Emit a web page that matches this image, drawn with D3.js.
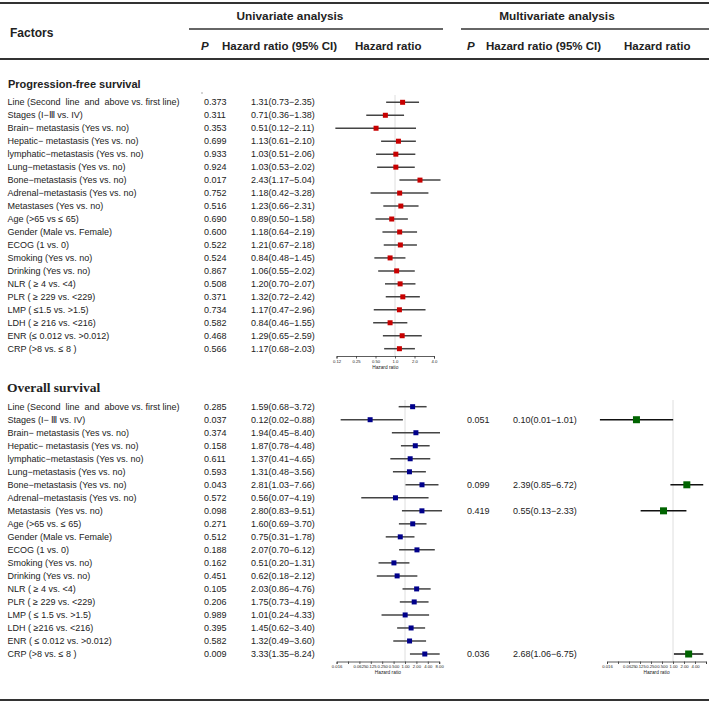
<!DOCTYPE html>
<html><head><meta charset="utf-8">
<script src="https://cdn.jsdelivr.net/npm/d3@7"></script>
<style>
body{margin:0;background:#fff}
svg text{font-family:"Liberation Sans",Arial,Helvetica,sans-serif;fill:#222;white-space:pre}
</style>
</head><body>
<svg id="chart" width="709" height="705"></svg>
<script>
// ---------- DATA ----------
const pfsFactors = [
  "Line (Second  line  and  above vs. first line)",
  "Stages (I\u2212\u2162 vs. IV)",
  "Brain\u2212 metastasis (Yes vs. no)",
  "Hepatic\u2212 metastasis (Yes vs. no)",
  "lymphatic\u2212metastasis (Yes vs. no)",
  "Lung\u2212metastasis (Yes vs. no)",
  "Bone\u2212metastasis (Yes vs. no)",
  "Adrenal\u2212metastasis (Yes vs. no)",
  "Metastases (Yes vs. no)",
  "Age (>65 vs \u2264 65)",
  "Gender (Male vs. Female)",
  "ECOG (1 vs. 0)",
  "Smoking (Yes vs. no)",
  "Drinking (Yes vs. no)",
  "NLR ( \u2265 4 vs. <4)",
  "PLR ( \u2265 229 vs. <229)",
  "LMP ( \u22641.5 vs. >1.5)",
  "LDH ( \u2265 216 vs. <216)",
  "ENR (\u2264 0.012 vs. >0.012)",
  "CRP (>8 vs. \u2264 8 )"
];
const pfsP  = ["0.373","0.311","0.353","0.699","0.933","0.924","0.017","0.752","0.516","0.690","0.600","0.522","0.524","0.867","0.508","0.371","0.734","0.582","0.468","0.566"];
const pfsHR = [1.31,0.71,0.51,1.13,1.03,1.03,2.43,1.18,1.23,0.89,1.18,1.21,0.84,1.06,1.20,1.32,1.17,0.84,1.29,1.17];
const pfsLo = [0.73,0.36,0.12,0.61,0.51,0.53,1.17,0.42,0.66,0.50,0.64,0.67,0.48,0.55,0.70,0.72,0.47,0.46,0.65,0.68];
const pfsHi = [2.35,1.38,2.11,2.10,2.06,2.02,5.04,3.28,2.31,1.58,2.19,2.18,1.45,2.02,2.07,2.42,2.96,1.55,2.59,2.03];

const osFactors = [
  "Line (Second  line  and  above vs. first line)",
  "Stages (I\u2212 \u2162 vs. IV)",
  "Brain\u2212 metastasis (Yes vs. no)",
  "Hepatic\u2212 metastasis (Yes vs. no)",
  "lymphatic\u2212metastasis (Yes vs. no)",
  "Lung\u2212metastasis (Yes vs. no)",
  "Bone\u2212metastasis (Yes vs. no)",
  "Adrenal\u2212metastasis (Yes vs. no)",
  "Metastasis  (Yes vs. no)",
  "Age (>65 vs. \u2264 65)",
  "Gender (Male vs. Female)",
  "ECOG (1 vs. 0)",
  "Smoking (Yes vs. no)",
  "Drinking (Yes vs. no)",
  "NLR ( \u2265 4 vs. <4)",
  "PLR ( \u2265 229 vs. <229)",
  "LMP ( \u2264 1.5 vs. >1.5)",
  "LDH ( \u2265216 vs. <216)",
  "ENR ( \u2264 0.012 vs. >0.012)",
  "CRP (>8 vs. \u2264 8 )"
];
const osP  = ["0.285","0.037","0.374","0.158","0.611","0.593","0.043","0.572","0.098","0.271","0.512","0.188","0.162","0.451","0.105","0.206","0.989","0.395","0.582","0.009"];
const osHR = [1.59,0.12,1.94,1.87,1.37,1.31,2.81,0.56,2.80,1.60,0.75,2.07,0.51,0.62,2.03,1.75,1.01,1.45,1.32,3.33];
const osLo = [0.68,0.02,0.45,0.78,0.41,0.48,1.03,0.07,0.83,0.69,0.31,0.70,0.20,0.18,0.86,0.73,0.24,0.62,0.49,1.35];
const osHi = [3.72,0.88,8.40,4.48,4.65,3.56,7.66,4.19,9.51,3.70,1.78,6.12,1.31,2.12,4.76,4.19,4.33,3.40,3.60,8.24];

// multivariate (OS) rows: index into osFactors
const mvRow = [1,6,8,19];
const mvP   = ["0.051","0.099","0.419","0.036"];
const mvHR  = [0.10,2.39,0.55,2.68];
const mvLo  = [0.01,0.85,0.13,1.06];
const mvHi  = [1.01,6.72,2.33,6.75];

const pfsTicks = [0.125,0.25,0.5,1,2,4];
const pfsTickLabels = ["0.12","0.25","0.50","1.0","2.0","4.0"];
const osTicks = [1/64,1/32,1/16,1/8,1/4,1/2,1,2,4,8];
const osTickLabels = ["0.016","","0.0625","0.125","0.250","0.500","1.00","2.00","4.00","8.00"];
const mvTickLabels = ["0.016","","0.0625","0.125","0.250","0.500","1.00","2.00","4.00",""];

// ---------- DRAW ----------
const svg = d3.select("#chart");
const fmt = (h,l,u)=>`${h.toFixed(2)}(${l.toFixed(2)}\u2212${u.toFixed(2)})`;

function hline(x1,x2,y,w){
  svg.append("line").attr("x1",x1).attr("x2",x2).attr("y1",y).attr("y2",y)
    .attr("stroke","#333").attr("stroke-width",w);
}
function txt(x,y,s,opt={}){
  const t = svg.append("text").attr("x",x).attr("y",y).text(s)
    .attr("font-size",opt.size||9).attr("dy","0.35em");
  if(opt.weight) t.attr("font-weight",opt.weight);
  if(opt.anchor) t.attr("text-anchor",opt.anchor);
  if(opt.family) t.style("font-family",opt.family);
  if(opt.style) t.attr("font-style",opt.style);
  return t;
}

// header
hline(0,709,3,2);
hline(0,709,59,2);
hline(189,443,29,1.5);
hline(461,709,29,1.5);
hline(0,709,700,2);
txt(10,33,"Factors",{size:12,weight:"bold"});
txt(290,16,"Univariate analysis",{size:11.8,weight:"bold",anchor:"middle"});
txt(557,16,"Multivariate analysis",{size:11.8,weight:"bold",anchor:"middle"});
txt(201,46,"P",{size:11.5,weight:"bold",style:"italic"});
txt(222,46,"Hazard ratio (95% CI)",{size:11.5,weight:"bold"});
txt(355,46,"Hazard ratio",{size:11.5,weight:"bold"});
txt(467,46,"P",{size:11.5,weight:"bold",style:"italic"});
txt(486,46,"Hazard ratio (95% CI)",{size:11.5,weight:"bold"});
txt(624,46,"Hazard ratio",{size:11.5,weight:"bold"});

// section titles
txt(8,84,"Progression-free survival",{size:11,weight:"bold"});
txt(7,387,"Overall survival",{size:13.5,weight:"bold",family:"'Liberation Serif','Times New Roman',serif"});
svg.append("circle").attr("cx",202).attr("cy",93).attr("r",0.7).attr("fill","#888");

function forest(cfg){
  const {factors,P,HR,Lo,Hi,y,x,ticks,labels,axisY,refTop,color,size,lineColor,textRows,pX,hrX} = cfg;
  const rows = textRows || d3.range(HR.length);
  // ref line
  svg.append("line").attr("x1",x(1)).attr("x2",x(1)).attr("y1",refTop).attr("y2",axisY)
    .attr("stroke","#d6d6d6").attr("stroke-width",0.8);
  if(factors){
    factors.forEach((f,i)=>txt(7.5,y(i),f));
  }
  rows.forEach((r,i)=>{
    txt(pX,y(r),P[i]);
    txt(hrX,y(r),fmt(HR[i],Lo[i],Hi[i]));
  });
  const g = svg.append("g");
  g.selectAll("line.ci").data(HR).join("line").attr("class","ci")
    .attr("x1",(d,i)=>x(Lo[i])).attr("x2",(d,i)=>x(Hi[i]))
    .attr("y1",(d,i)=>y(rows[i])).attr("y2",(d,i)=>y(rows[i]))
    .attr("stroke",lineColor).attr("stroke-width",1.5);
  g.selectAll("rect").data(HR).join("rect")
    .attr("x",d=>x(d)-size/2).attr("y",(d,i)=>y(rows[i])-size/2)
    .attr("width",size).attr("height",size).attr("fill",color);
  // axis
  const ax = svg.append("g").attr("transform",`translate(0,${axisY})`)
    .call(d3.axisBottom(x).tickValues(ticks).tickFormat((d,i)=>labels[i]).tickSize(2.5).tickPadding(1.5));
  ax.select(".domain").attr("stroke","#333").attr("stroke-width",0.8);
  ax.selectAll(".tick line").attr("stroke","#333").attr("stroke-width",0.8);
  ax.selectAll(".tick text").attr("font-size",4.2).attr("fill","#333");
  ax.attr("font-size",4.2);
  const [r0,r1] = x.range();
  txt((r0+r1)/2,axisY+11,"Hazard ratio",{size:4.8,anchor:"middle"}).attr("fill","#333");
}

const yPFS = d3.scaleLinear().domain([0,19]).range([102.3,348.7]);
const yOS  = d3.scaleLinear().domain([0,19]).range([406.7,654]);
const xPFS = d3.scaleLog().base(2).domain([0.125,4]).range([336.5,434]);
const xOS  = d3.scaleLog().base(2).domain([1/64,8]).range([336.6,439.2]);
const xMV  = d3.scaleLog().base(2).domain([1/64,8]).range([607,706]);

forest({factors:pfsFactors,P:pfsP,HR:pfsHR,Lo:pfsLo,Hi:pfsHi,y:yPFS,x:xPFS,ticks:pfsTicks,labels:pfsTickLabels,
  axisY:356,refTop:95,color:"#c80000",size:5,lineColor:"#444",pX:204,hrX:251});
forest({factors:osFactors,P:osP,HR:osHR,Lo:osLo,Hi:osHi,y:yOS,x:xOS,ticks:osTicks,labels:osTickLabels,
  axisY:661.5,refTop:400,color:"#00008b",size:5,lineColor:"#444",pX:204,hrX:251});
forest({factors:null,P:mvP,HR:mvHR,Lo:mvLo,Hi:mvHi,y:yOS,x:xMV,ticks:osTicks,labels:mvTickLabels,textRows:mvRow,
  axisY:661.5,refTop:400,color:"#006400",size:7,lineColor:"#111",pX:467,hrX:513});
</script>
</body></html>
